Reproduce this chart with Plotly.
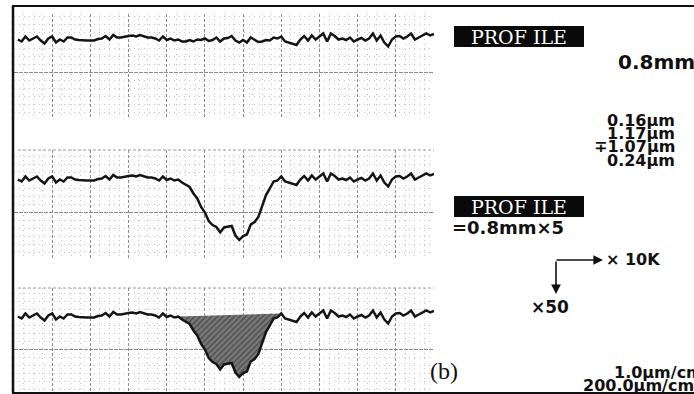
import plotly.graph_objects as go

# Position along the trace (mm), 0.8 mm x 5 evaluation length
pos_mm = [0.04, 0.08, 0.12, 0.16, 0.20, 0.24, 0.28, 0.32, 0.36, 0.40,
          0.44, 0.48, 0.52, 0.56, 0.60, 0.64, 0.68, 0.72, 0.76, 0.80,
          0.84, 0.88, 0.92, 0.96, 1.00, 1.04, 1.08, 1.12, 1.16, 1.20,
          1.24, 1.28, 1.32, 1.36, 1.40, 1.44, 1.48, 1.52, 1.56, 1.60,
          1.64, 1.68, 1.72, 1.76, 1.80, 1.84, 1.88, 1.92, 1.96, 2.00,
          2.04, 2.08, 2.12, 2.16, 2.20, 2.24, 2.28, 2.32, 2.36, 2.40,
          2.44, 2.48, 2.52, 2.56, 2.60, 2.64, 2.68, 2.72, 2.76, 2.80,
          2.84, 2.88, 2.92, 2.96, 3.00, 3.04, 3.08, 3.12, 3.16, 3.20,
          3.24, 3.28, 3.32, 3.36, 3.40, 3.44, 3.48, 3.52, 3.56, 3.60,
          3.64, 3.68, 3.72, 3.76, 3.80, 3.84, 3.88, 3.92, 3.96, 4.00,
          4.04, 4.08, 4.12, 4.16, 4.20, 4.24, 4.28, 4.32, 4.36, 4.40]

# Surface roughness (um) of the untreated profile
roughness_um = [-0.01, -0.05, 0.05, -0.03, 0.01, 0.05, -0.03, -0.09, 0.01, 0.05,
                -0.07, -0.01, -0.05, 0.03, 0.03, -0.01, -0.02, -0.03, -0.03, -0.03,
                -0.03, 0.00, 0.01, 0.06, -0.01, 0.08, 0.03, 0.03, 0.05, 0.06,
                0.07, 0.05, 0.08, 0.05, 0.03, 0.03, 0.01, -0.03, 0.05, -0.02,
                0.01, -0.03, -0.01, -0.05, -0.05, -0.02, -0.05, -0.01, -0.02, 0.01,
                -0.04, -0.02, 0.03, -0.05, 0.01, 0.02, 0.06, -0.03, -0.07, -0.02,
                -0.07, 0.03, -0.02, -0.06, -0.05, -0.02, -0.03, 0.03, 0.01, 0.05,
                -0.05, -0.07, -0.09, -0.12, -0.01, 0.06, -0.03, 0.07, -0.01, 0.05,
                0.11, -0.05, 0.11, 0.06, -0.01, 0.01, -0.02, 0.03, -0.05, -0.01,
                0.02, -0.03, 0.01, 0.11, -0.03, 0.07, -0.07, -0.15, -0.01, 0.05,
                0.06, 0.01, 0.05, 0.11, -0.01, 0.03, 0.07, 0.11, 0.07, 0.10]

# Wear groove depth (um), starting at the 43rd sample (pos 1.72 mm)
groove_start = 42
groove_um = [0.00, -0.02, -0.06, -0.14, -0.24, -0.38, -0.54, -0.68, -0.80, -0.90,
             -0.99, -1.02, -0.98, -0.97, -1.00, -1.10, -1.15, -1.12, -1.04, -0.94,
             -0.84, -0.70, -0.48, -0.30, -0.16, -0.08, -0.04, 0.00]

profile_worn = list(roughness_um)
for i, d in enumerate(groove_um):
    profile_worn[groove_start + i] += d

W, H = 694, 394
def px(x): return x / W
def py(y): return 1 - y / H

LINE = dict(color="#141414", width=2.5)
fig = go.Figure()

fig.add_trace(go.Scatter(x=pos_mm, y=roughness_um, mode="lines", line=LINE,
                         xaxis="x", yaxis="y", showlegend=False, hoverinfo="skip"))
fig.add_trace(go.Scatter(x=pos_mm, y=profile_worn, mode="lines", line=LINE,
                         xaxis="x2", yaxis="y2", showlegend=False, hoverinfo="skip"))
gx = pos_mm[groove_start:groove_start + len(groove_um)]
gy = profile_worn[groove_start:groove_start + len(groove_um)]
fig.add_trace(go.Scatter(x=gx, y=gy, mode="lines", fill="toself", line=dict(width=0),
                         fillcolor="#6a6a6a",
                         fillpattern=dict(shape="/", fgcolor="#2a2a2a", bgcolor="#7a7a7a",
                                          size=4, solidity=0.45),
                         xaxis="x3", yaxis="y3", showlegend=False, hoverinfo="skip"))
fig.add_trace(go.Scatter(x=pos_mm, y=profile_worn, mode="lines", line=LINE,
                         xaxis="x3", yaxis="y3", showlegend=False, hoverinfo="skip"))

xdom = [px(14), px(434)]
xmajor = [0.4, 0.8, 1.2, 1.6, 2.0, 2.4, 2.8, 3.2, 3.6, 4.0]
def xax(anchor):
    return dict(domain=xdom, range=[0, 4.4], anchor=anchor, showticklabels=False,
                zeroline=False, showline=False, ticks="",
                tickmode="array", tickvals=xmajor, showgrid=True,
                gridcolor="#8c8c8c", gridwidth=1, griddash="3px,2px",
                minor=dict(dtick=0.1, tick0=0, showgrid=True, gridcolor="#c4c4c4",
                           griddash="1px,4px", gridwidth=1))

def yax(anchor, dom, rng):
    return dict(domain=dom, range=rng, anchor=anchor, showticklabels=False,
                zeroline=False, showline=False, ticks="",
                tickmode="array", tickvals=[-0.66], showgrid=True,
                gridcolor="#8c8c8c", gridwidth=1, griddash="4px,1px",
                minor=dict(tickmode="array",
                           tickvals=[0.46, 0.30, 0.14, -0.18, -0.34, -0.50, -0.82, -0.98, -1.14, -1.30, -1.46],
                           showgrid=True, gridcolor="#c4c4c4", griddash="1px,4px", gridwidth=1))

fig.update_layout(
    width=W, height=H, margin=dict(l=0, r=0, t=0, b=0),
    paper_bgcolor="white", plot_bgcolor="rgba(0,0,0,0)",
    xaxis=xax("y"), xaxis2=xax("y2"), xaxis3=xax("y3"),
    yaxis=yax("x", [py(118), py(14)], [-1.58, 0.50]),
    yaxis2=yax("x2", [py(258), py(150)], [-1.58, 0.58]),
    yaxis3=yax("x3", [py(392), py(288)], [-1.52, 0.56]),
)

shapes = []
shapes.append(dict(type="line", xref="paper", yref="paper", x0=px(13), x1=px(13),
                   y0=py(6), y1=py(393), line=dict(color="#111", width=2.5)))
shapes.append(dict(type="line", xref="paper", yref="paper", x0=px(12), x1=1.0,
                   y0=py(6), y1=py(6), line=dict(color="#111", width=2)))
shapes.append(dict(type="line", xref="paper", yref="paper", x0=px(12), x1=1.0,
                   y0=py(393), y1=py(393), line=dict(color="#111", width=2)))
for yy in (150, 288):
    shapes.append(dict(type="line", xref="paper", yref="paper", x0=px(18), x1=px(434),
                       y0=py(yy), y1=py(yy), line=dict(color="#9a9a9a", width=1, dash="3px,2px")))
for (y0, y1) in ((26, 47), (196, 217)):
    shapes.append(dict(type="rect", xref="paper", yref="paper", x0=px(454), x1=px(584),
                       y0=py(y1), y1=py(y0), fillcolor="#0a0a0a", line=dict(width=0)))
fig.update_layout(shapes=shapes)

BOLD = "DejaVu Sans"
def txt(x, y, s, size=17, anchor="left", color="#111", family=BOLD, bold=True):
    fig.add_annotation(xref="paper", yref="paper", x=px(x), y=py(y), text=(f"<b>{s}</b>" if bold else s),
                       showarrow=False, xanchor=anchor, yanchor="middle",
                       font=dict(family=family, size=size, color=color))

txt(519, 37, "PROF ILE", size=19, anchor="center", color="white", family="DejaVu Serif", bold=False)
txt(519, 207, "PROF ILE", size=19, anchor="center", color="white", family="DejaVu Serif", bold=False)
txt(616, 62, "0.8mm", size=20)
txt(677, 120, "0.16μm", size=16, anchor="right")
txt(677, 133.5, "1.17μm", size=16, anchor="right")
txt(677, 147, "∓1.07μm", size=16, anchor="right")
txt(677, 160.5, "0.24μm", size=16, anchor="right")
txt(450, 227, "=0.8mm×5", size=18)
txt(604, 259, "× 10K", size=16)
txt(529, 307, "×50", size=17)
txt(428, 371, "(b)", size=24, family="Liberation Serif", bold=False)
txt(612, 372, "1.0μm/cm", size=16)
txt(581, 385, "200.0μm/cm", size=16)

fig.add_annotation(xref="paper", yref="paper", x=px(603), y=py(260), ax=-48, ay=0,
                   text="", showarrow=True, arrowhead=2, arrowsize=1.2, arrowwidth=1.6, arrowcolor="#111")
fig.add_annotation(xref="paper", yref="paper", x=px(556), y=py(294), ax=0, ay=-34,
                   text="", showarrow=True, arrowhead=2, arrowsize=1.2, arrowwidth=1.6, arrowcolor="#111")

fig.write_html("out.html", config={"displayModeBar": False},
               post_script="document.body.style.margin='0';document.body.style.overflow='hidden';")
